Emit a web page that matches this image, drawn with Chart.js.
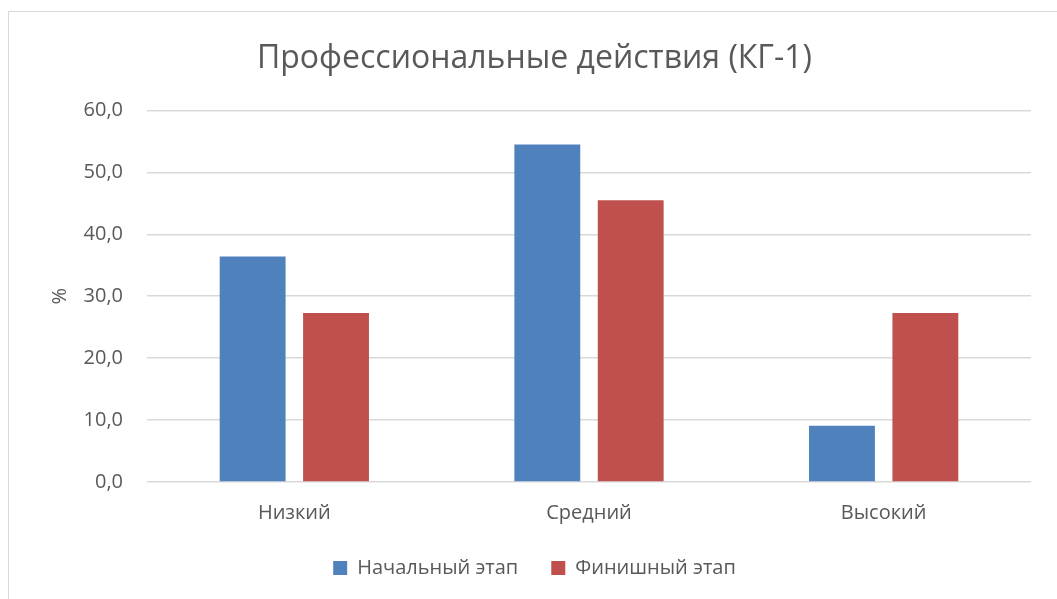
<!DOCTYPE html>
<html>
<head>
<meta charset="utf-8">
<script src="https://cdn.jsdelivr.net/npm/chart.js@4"></script>
<style>
  html, body { margin: 0; padding: 0; background: #fff; overflow: hidden; }
  #frame { position: absolute; left: 8px; top: 11px; width: 1100px; height: 700px; border: 1px solid #d9d9d9; }
  #wrap { position: absolute; left: 0; top: 0; width: 1057px; height: 599px; }
</style>
</head>
<body>
<div id="frame"></div>
<div id="wrap"><canvas id="myChart"></canvas></div>
<script>
const categories = ['Низкий', 'Средний', 'Высокий'];
const startValues = [36.4, 54.5, 9.1];
const finishValues = [27.3, 45.5, 27.3];
const seriesNames = ['Начальный этап', 'Финишный этап'];
const titleText = 'Профессиональные действия (КГ-1)';

const textColor = '#595959';
const fontFamily = '"Open Sans", "Noto Sans", sans-serif';

const ctx = document.getElementById('myChart').getContext('2d');
const myChart = new Chart(ctx, {
  type: 'bar',
  data: {
    labels: categories,
    datasets: [{
      label: seriesNames[0],
      data: startValues,
      backgroundColor: '#4F81BD',
      categoryPercentage: 0.566,
      barPercentage: 0.79
    }, {
      label: seriesNames[1],
      data: finishValues,
      backgroundColor: '#C0504D',
      categoryPercentage: 0.566,
      barPercentage: 0.79
    }]
  },
  options: {
    responsive: true,
    maintainAspectRatio: false,
    animation: false,
    layout: {
      padding: { left: 38, right: 26, top: 0, bottom: 11 }
    },
    plugins: {
      title: {
        display: true,
        text: titleText,
        color: textColor,
        font: { family: fontFamily, size: 32, weight: 'normal' },
        padding: { top: 40, bottom: 32 }
      },
      legend: {
        position: 'bottom',
        labels: {
          color: textColor,
          font: { family: fontFamily, size: 20 },
          boxWidth: 14,
          boxHeight: 14,
          padding: 33
        }
      },
      tooltip: { enabled: false }
    },
    scales: {
      x: {
        grid: { display: false, drawTicks: false },
        border: { display: false },
        ticks: {
          color: textColor,
          font: { family: fontFamily, size: 20 },
          padding: 19
        },
        afterFit: function (scale) { scale.height = 43; }
      },
      y: {
        min: 0,
        max: 60,
        grid: { color: '#d9d9d9', lineWidth: 1.5, drawTicks: false },
        border: { display: false },
        ticks: {
          stepSize: 10,
          color: textColor,
          font: { family: fontFamily, size: 20 },
          padding: 24,
          callback: function (v) { return v.toFixed(1).replace('.', ','); }
        },
        title: {
          display: true,
          text: '%',
          color: textColor,
          font: { family: fontFamily, size: 20 },
          padding: { top: 10, bottom: 0 }
        },
        afterFit: function (scale) { scale.width = 109; }
      }
    }
  }
});
</script>
</body>
</html>
